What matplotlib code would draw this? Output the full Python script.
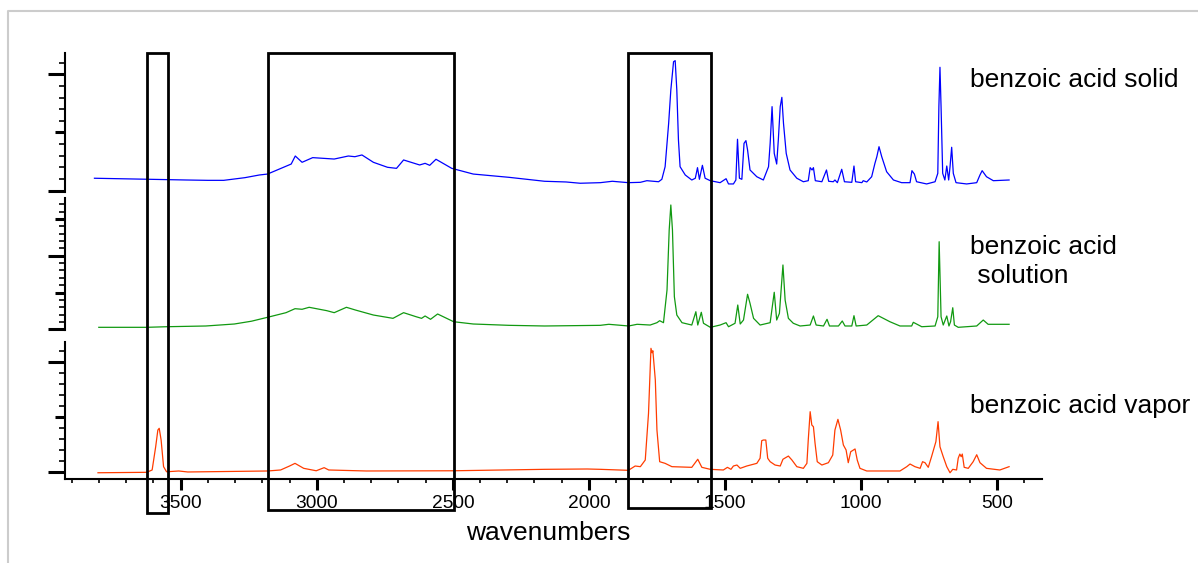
import matplotlib.pyplot as plt
from matplotlib.patches import Rectangle
from matplotlib.lines import Line2D
from matplotlib.transforms import blended_transform_factory
from matplotlib.ticker import FixedLocator, MultipleLocator, FormatStrFormatter

plt.rcParams['font.family'] = ['Liberation Sans', 'DejaVu Sans']

# benzoic acid, solid sample
solid_wn = [3817, 3625, 3480, 3400, 3342, 3264, 3211, 3181, 3094, 3079, 3054, 3015, 2936, 2884, 2860, 2834,
            2792, 2740, 2707, 2681, 2641, 2622, 2602, 2585, 2562, 2504, 2425, 2294,
            2163, 2084, 2032, 1958, 1914, 1855, 1811, 1787, 1744, 1732, 1720, 1707,
            1699, 1689, 1683, 1677, 1671, 1665, 1646, 1622, 1609, 1601, 1594, 1583,
            1573, 1554, 1518, 1496, 1487, 1469, 1460, 1454, 1447, 1438, 1430, 1423,
            1417, 1408, 1383, 1359, 1340, 1334, 1327, 1319, 1310, 1304, 1297, 1291,
            1285, 1275, 1261, 1236, 1212, 1194, 1187, 1180, 1175, 1168, 1144, 1127,
            1119, 1102, 1096, 1087, 1071, 1061, 1034, 1026, 1020, 997, 992, 979,
            961, 949, 942, 934, 924, 906, 881, 851, 820, 813, 804, 796, 759, 728,
            718, 714, 710, 706, 700, 692, 685, 678, 673, 667, 661, 651, 612, 575,
            563, 555, 539, 514, 456]
solid_abs = [0.107, 0.098, 0.092, 0.089, 0.089, 0.112, 0.135, 0.143, 0.229, 0.298, 0.244, 0.284, 0.272, 0.298, 0.292, 0.307,
             0.244, 0.201, 0.192, 0.264, 0.235, 0.221, 0.235, 0.218, 0.270, 0.192, 0.143, 0.115,
             0.081, 0.075, 0.064, 0.069, 0.081, 0.069, 0.072, 0.086, 0.077, 0.098, 0.206, 0.579,
             0.865, 1.108, 1.117, 0.865, 0.436, 0.206, 0.135, 0.092, 0.107, 0.198, 0.098, 0.218,
             0.107, 0.086, 0.069, 0.103, 0.058, 0.058, 0.092, 0.442, 0.107, 0.098, 0.407, 0.430,
             0.350, 0.178, 0.120, 0.092, 0.206, 0.407, 0.722, 0.321, 0.229, 0.436, 0.722, 0.802,
             0.579, 0.321, 0.178, 0.107, 0.077, 0.086, 0.198, 0.178, 0.198, 0.086, 0.077, 0.178,
             0.081, 0.077, 0.092, 0.069, 0.184, 0.077, 0.072, 0.212, 0.077, 0.069, 0.086, 0.075,
             0.120, 0.235, 0.292, 0.378, 0.292, 0.163, 0.092, 0.069, 0.069, 0.172, 0.143, 0.077,
             0.058, 0.077, 0.149, 0.722, 1.060, 0.722, 0.149, 0.092, 0.212, 0.092, 0.206, 0.373,
             0.149, 0.069, 0.058, 0.069, 0.135, 0.172, 0.120, 0.086, 0.092]

# benzoic acid in solution
solution_wn = [3801, 3625, 3552, 3408, 3303, 3240, 3181, 3113, 3080, 3054, 3028, 2963, 2936,
               2891, 2858, 2792, 2720, 2681, 2635, 2615, 2602, 2582, 2556, 2497, 2425,
               2294, 2163, 1958, 1927, 1854, 1823, 1775, 1750, 1740, 1726, 1713, 1705,
               1699, 1693, 1686, 1677, 1658, 1622, 1607, 1600, 1587, 1579, 1554, 1518,
               1496, 1487, 1463, 1453, 1444, 1432, 1417, 1408, 1395, 1371, 1334, 1319,
               1310, 1300, 1287, 1279, 1267, 1249, 1224, 1187, 1175, 1165, 1138, 1125,
               1116, 1083, 1069, 1059, 1034, 1026, 1018, 979, 937, 894, 857, 814, 808,
               796, 777, 728, 718, 713, 706, 698, 685, 677, 671, 663, 657, 643, 575,
               551, 533, 456]
solution_abs = [0.027, 0.027, 0.035, 0.045, 0.072, 0.110, 0.163, 0.226, 0.280, 0.272, 0.299, 0.253, 0.226,
                0.299, 0.262, 0.194, 0.149, 0.226, 0.171, 0.149, 0.181, 0.136, 0.208, 0.103, 0.072,
                0.054, 0.045, 0.054, 0.068, 0.045, 0.068, 0.058, 0.090, 0.117, 0.090, 0.534, 1.349,
                1.689, 1.349, 0.443, 0.194, 0.090, 0.058, 0.239, 0.058, 0.231, 0.082, 0.027, 0.058,
                0.090, 0.035, 0.082, 0.330, 0.072, 0.126, 0.476, 0.353, 0.149, 0.058, 0.090, 0.503,
                0.126, 0.217, 0.874, 0.398, 0.149, 0.082, 0.045, 0.058, 0.181, 0.058, 0.045, 0.136,
                0.045, 0.045, 0.113, 0.045, 0.045, 0.185, 0.045, 0.058, 0.185, 0.103, 0.045, 0.045, 0.095,
                0.072, 0.035, 0.045, 0.171, 1.190, 0.171, 0.058, 0.181, 0.045, 0.103, 0.293, 0.058, 0.027, 0.045,
                0.126, 0.068, 0.068]

# benzoic acid vapor
vapor_wn = [3804, 3625, 3605, 3592, 3584, 3579, 3572, 3563, 3552, 3507, 3474, 3181,
            3133, 3100, 3080, 3048, 3002, 2973, 2956, 2818, 2497, 2163, 2006, 1958,
            1855, 1830, 1811, 1793, 1781, 1772, 1768, 1765, 1756, 1750, 1740, 1720,
            1695, 1622, 1600, 1585, 1554, 1506, 1491, 1478, 1469, 1456, 1444, 1420,
            1383, 1371, 1365, 1359, 1350, 1343, 1334, 1316, 1297, 1287, 1267, 1254,
            1236, 1212, 1199, 1194, 1187, 1181, 1175, 1169, 1161, 1144, 1120, 1104,
            1096, 1085, 1075, 1065, 1055, 1047, 1038, 1022, 1014, 1004, 979, 857,
            832, 820, 802, 783, 774, 765, 753, 741, 725, 717, 710, 698, 685, 673,
            663, 649, 643, 637, 632, 628, 621, 606, 588, 575, 563, 539, 490, 456]
vapor_abs = [-0.004, 0.000, 0.021, 0.231, 0.382, 0.398, 0.292, 0.051, 0.005, 0.012, 0.003, 0.012,
             0.021, 0.057, 0.081, 0.036, 0.014, 0.042, 0.021, 0.012, 0.014, 0.027, 0.030, 0.027,
             0.018, 0.057, 0.051, 0.111, 0.533, 1.121, 1.081, 1.099, 0.835, 0.382, 0.096, 0.081,
             0.051, 0.045, 0.118, 0.045, 0.027, 0.021, 0.045, 0.027, 0.057, 0.066, 0.036, 0.057,
             0.081, 0.127, 0.286, 0.292, 0.292, 0.127, 0.096, 0.066, 0.057, 0.118, 0.147, 0.111,
             0.051, 0.036, 0.081, 0.292, 0.548, 0.428, 0.412, 0.262, 0.096, 0.066, 0.087, 0.156,
             0.382, 0.479, 0.382, 0.247, 0.202, 0.087, 0.186, 0.211, 0.111, 0.036, 0.012, 0.012,
             0.051, 0.075, 0.051, 0.036, 0.096, 0.087, 0.045, 0.141, 0.277, 0.458, 0.231, 0.141, 0.051, -0.004,
             0.027, 0.021, 0.127, 0.165, 0.141, 0.165, 0.045, 0.036, 0.096, 0.159, 0.087, 0.036, 0.021, 0.051]

# highlighted regions (cm-1)
regions = [(3625, 3548), (3181, 2497), (1855, 1551)]

fig = plt.figure(figsize=(11.98, 5.63), dpi=100)

# light frame around the figure
fig.add_artist(Line2D([0.0063, 0.0063, 1.0], [0.0, 0.9808, 0.9808],
                      transform=fig.transFigure, color='#cccccc', lw=1.5))

left, width = 0.0543, 0.8155
panels = [
    # (bottom, height, ylim, medium ticks, data, colour)
    (0.6590, 0.2469, (-0.011, 1.183), [0.5], solid_wn, solid_abs, '#0000ff'),
    (0.4130, 0.2353, (-0.016, 1.784), [0.5, 1.5], solution_wn, solution_abs, '#119911'),
    (0.1487, 0.2444, (-0.063, 1.181), [0.5], vapor_wn, vapor_abs, '#ff3c00'),
]

axes = []
for bottom, height, ylim, mids, wn, ab, col in panels:
    ax = fig.add_axes([left, bottom, width, height])
    ax.plot(wn, ab, color=col, lw=0.9)
    ax.set_xlim(3925, 335)
    ax.set_ylim(*ylim)
    ax.patch.set_alpha(0)
    for side in ('top', 'right', 'bottom'):
        ax.spines[side].set_visible(False)
    ax.spines['left'].set_linewidth(1.5)
    ax.yaxis.set_major_locator(FixedLocator([0, 1]))
    ax.yaxis.set_minor_locator(MultipleLocator(0.1))
    ax.tick_params(axis='y', which='major', length=12, width=2.2, labelleft=False)
    ax.tick_params(axis='y', which='minor', length=4, width=1.2)
    # mid-size ticks at the half units
    sec = ax.secondary_yaxis('left')
    sec.set_yticks(mids)
    sec.set_yticklabels([])
    sec.tick_params(length=7.5, width=2.2)
    sec.spines['left'].set_visible(False)
    axes.append(ax)

for ax in axes[:2]:
    ax.xaxis.set_visible(False)

ax = axes[-1]
ax.spines['bottom'].set_visible(True)
ax.spines['bottom'].set_linewidth(1.5)
ax.xaxis.set_major_locator(MultipleLocator(500))
ax.xaxis.set_minor_locator(MultipleLocator(100))
ax.xaxis.set_major_formatter(FormatStrFormatter('%d'))
ax.tick_params(axis='x', which='major', length=8, width=2.2, pad=3, labelsize=13.8)
ax.tick_params(axis='x', which='minor', length=3, width=1.2)
ax.set_xlabel('wavenumbers', fontsize=19, labelpad=7, x=0.4949)

# boxes spanning all three spectra
trans = blended_transform_factory(ax.transData, fig.transFigure)
box_bottoms = [0.0888, 0.0941, 0.0977]
for (hi, lo), yb in zip(regions, box_bottoms):
    fig.add_artist(Rectangle((lo, yb), hi - lo, 0.9059 - yb, transform=trans,
                             fill=False, ec='black', lw=2, zorder=10))

fig.text(0.8097, 0.846, 'benzoic acid solid', fontsize=19, va='baseline')
fig.text(0.8097, 0.5488, 'benzoic acid', fontsize=19, va='baseline')
fig.text(0.8097, 0.4968, ' solution', fontsize=19, va='baseline')
fig.text(0.8097, 0.2670, 'benzoic acid vapor', fontsize=19, va='baseline')

fig.savefig('out.png', dpi=100)
